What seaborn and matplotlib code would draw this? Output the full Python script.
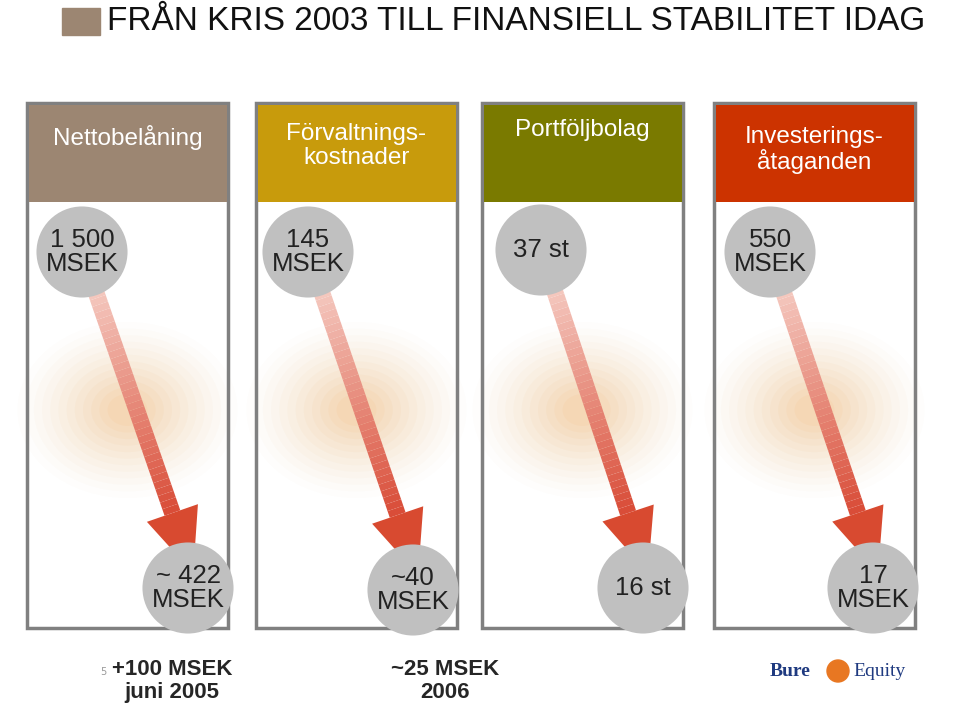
import matplotlib
matplotlib.use("Agg")
import matplotlib.pyplot as plt
import seaborn as sns
import numpy as np
import pandas as pd
from matplotlib.patches import Rectangle, Polygon

categories = ["Nettobelåning", "Förvaltnings-\nkostnader", "Portföljbolag", "Investerings-\nåtaganden"]
start_labels = ["1 500\nMSEK", "145\nMSEK", "37 st", "550\nMSEK"]
end_labels = ["~ 422\nMSEK", "~40\nMSEK", "16 st", "17\nMSEK"]
header_colors = ["#9C8672", "#C89B0C", "#7A7A00", "#CC3300"]
notes = ["+100 MSEK\njuni 2005", "~25 MSEK\n2006"]

sns.set_theme(style="white")
fig = plt.figure(figsize=(9.6, 7.12), dpi=100)
ax = fig.add_axes([0, 0, 1, 1])

ax.add_patch(Rectangle((62, 8), 38, 27, color="#9C8672"))
ax.text(107, 22, "FRÅN KRIS 2003 TILL FINANSIELL STABILITET IDAG", fontsize=24,
        va="center", ha="left", color="#111111", family="Liberation Sans")

panel_x = [27, 256, 482, 714]
pw = 201
header_y = [138, 146, 130, 150]
starts = [(82, 252), (308, 252), (541, 250), (770, 252)]
ends = [(188, 588), (413, 590), (643, 588), (873, 588)]

for i, x0 in enumerate(panel_x):
    cx = x0 + pw / 2
    for r, a in zip(np.linspace(110, 20, 12), np.linspace(0.015, 0.06, 12)):
        ax.add_patch(matplotlib.patches.Ellipse((cx, 410), r * 2, r * 1.6, color="#F5A040", alpha=a, lw=0))
    ax.add_patch(Rectangle((x0, 103), pw, 525, fill=False, ec="#808080", lw=2.5))
    ax.add_patch(Rectangle((x0 + 1.5, 104.5), pw - 3, 97, color=header_colors[i], lw=0))
    ax.text(cx, header_y[i], categories[i], ha="center", va="center", color="white", fontsize=17.5,
            family="Liberation Sans", linespacing=1.1)
    (sx, sy), (ex, ey) = starts[i], ends[i]
    n = 40
    tip_y = ey - 30
    base_y = tip_y - 45
    for k in range(n):
        t0, t1 = k / n, (k + 1) / n
        ya, yb = sy + (base_y - sy) * t0, sy + (base_y - sy) * t1
        xa = sx + (ex - sx) * (ya - sy) / (tip_y - sy)
        xb = sx + (ex - sx) * (yb - sy) / (tip_y - sy)
        c = np.array([0.98, 0.88, 0.85]) * (1 - t1) + np.array([0.85, 0.3, 0.22]) * t1
        ax.plot([xa, xb], [ya, yb], color=c, lw=12, solid_capstyle="butt")
    bx = sx + (ex - sx) * (base_y - sy) / (tip_y - sy)
    tx = sx + (ex - sx) * (tip_y + 15 - sy) / (tip_y - sy)
    dx, dy = (ex - sx), (tip_y - sy)
    L = np.hypot(dx, dy); px, py = -dy / L, dx / L
    ax.add_patch(Polygon([(bx + px * 27, base_y + py * 27), (bx - px * 27, base_y - py * 27),
                          (tx, tip_y + 15)], color="#D84A30", lw=0))

df = pd.DataFrame({"x": [p[0] for p in starts + ends], "y": [p[1] for p in starts + ends]})
sns.scatterplot(data=df, x="x", y="y", s=4300, color="#C0C0C0", edgecolor="none", ax=ax, legend=False, zorder=5)
ax.set_xlim(0, 960); ax.set_ylim(712, 0); ax.axis("off")

for (x, y), lab in zip(starts + ends, start_labels + end_labels):
    ax.text(x, y, lab, ha="center", va="center", fontsize=18.5, color="#222222",
            family="Liberation Sans", linespacing=1.0, zorder=6)

ax.text(172, 681, notes[0], ha="center", va="center", fontsize=16, fontweight="bold",
        family="Liberation Sans", linespacing=1.1)
ax.text(445, 681, notes[1], ha="center", va="center", fontsize=16, fontweight="bold",
        family="Liberation Sans", linespacing=1.1)
ax.text(100, 672, "5", fontsize=7, color="#999999", va="center")
ax.text(770, 672, "Bure", fontsize=14, fontweight="bold", color="#1F3A80", va="center", family="Liberation Serif")
ax.add_patch(matplotlib.patches.Circle((838, 671), 11, color="#E87722"))
ax.text(853, 672, "Equity", fontsize=14, color="#1F3A80", va="center", family="Liberation Serif")

fig.savefig("out.png", dpi=100)
